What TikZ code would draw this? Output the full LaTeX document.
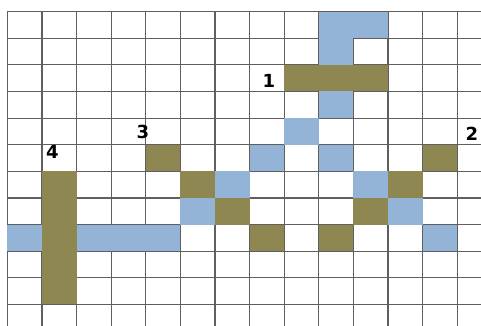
\documentclass[tikz,border=0pt]{standalone}
\usepackage{fontspec}
\setmainfont{DejaVu Sans}
\definecolor{olivecell}{RGB}{143,135,82}
\definecolor{bluecell}{RGB}{147,179,215}
\definecolor{gridgray}{RGB}{95,95,95}
\begin{document}
\begin{tikzpicture}[x=1pt,y=-1pt,
  gridline/.style={draw=gridgray,line width=1.2pt},
  bluebox/.style={fill=bluecell},
  olivebox/.style={fill=olivecell},
  numlabel/.style={font=\fontsize{18}{18}\selectfont\bfseries,inner sep=0pt}]
\useasboundingbox[fill=white] (0,0) rectangle (481,326);
\foreach \k in {0,...,13} \draw[gridline] ({7.3+34.6*\k},11.7) -- ({7.3+34.6*\k},326);
\foreach \k in {0,...,11} \draw[gridline] (7.3,{11.7+26.6*\k}) -- (481,{11.7+26.6*\k});
\foreach \c/\r in {9/0,10/0,9/1,9/3,8/4,7/5,9/5,6/6,10/6,5/7,11/7,0/8,2/8,3/8,4/8,12/8}
  \fill[bluebox] ({7.3+34.6*\c},{11.7+26.6*\r}) rectangle ++(34.6,26.6);
\foreach \c/\r in {8/2,9/2,10/2,4/5,12/5,1/6,5/6,11/6,6/7,10/7,1/7,1/8,7/8,9/8,1/9,1/10}
  \fill[olivebox] ({7.3+34.6*\c},{11.7+26.6*\r}) rectangle ++(34.6,26.6);
\node[numlabel] (l1) at (269,81) {1};
\node[numlabel] (l2) at (472,134) {2};
\node[numlabel] (l3) at (143,132) {3};
\node[numlabel] (l4) at (52.5,152) {4};
\end{tikzpicture}
\end{document}
